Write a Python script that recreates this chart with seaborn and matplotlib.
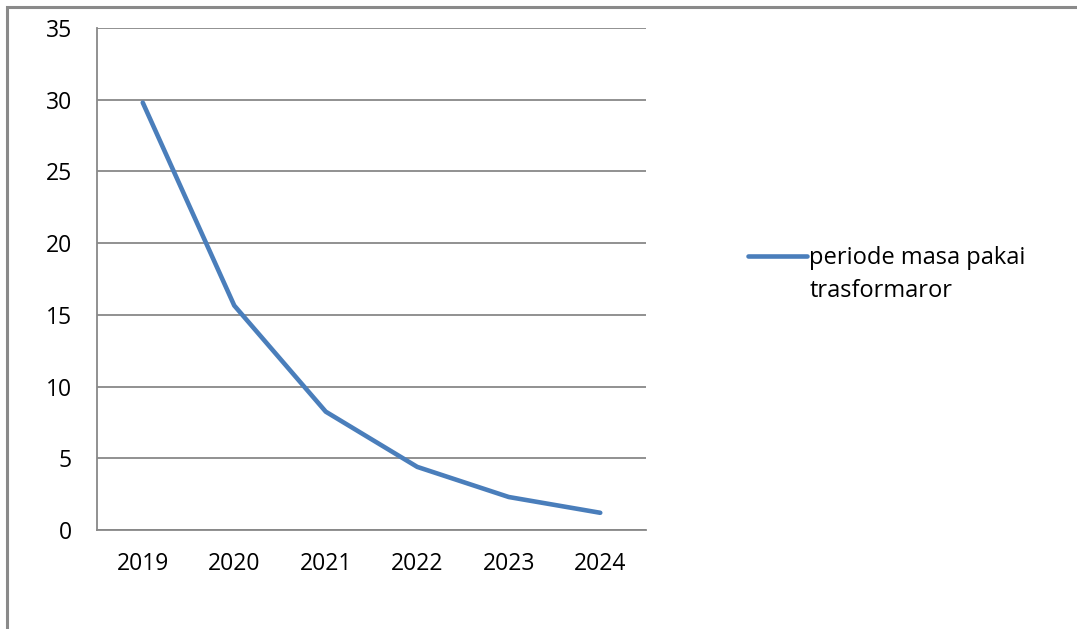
import matplotlib
matplotlib.use("Agg")
import matplotlib.pyplot as plt
import seaborn as sns
import pandas as pd
from matplotlib.patches import Rectangle

years = ["2019", "2020", "2021", "2022", "2023", "2024"]
values = [29.8, 15.65, 8.25, 4.4, 2.3, 1.2]
series_label_lines = ["periode masa pakai", "trasformaror"]
y_ticks = [0, 5, 10, 15, 20, 25, 30, 35]

sns.set_style("white")
plt.rcParams['font.family'] = ['Open Sans', 'DejaVu Sans']
plt.rcParams['text.color'] = 'black'
plt.rcParams['xtick.color'] = 'black'
plt.rcParams['ytick.color'] = 'black'

df = pd.DataFrame({"year": years, "value": values})

fig = plt.figure(figsize=(10.77, 6.29), dpi=100)
ax = fig.add_axes([97/1077, 99/629, (646-97)/1077, (530-28)/629])

sns.lineplot(data=df, x="year", y="value", ax=ax, color="#4A7EBB",
             linewidth=3.3, label=series_label_lines[0], solid_capstyle="round")

grid_c = "#888888"
fs = 16.5
ax.set_ylim(0, 35)
ax.set_xlim(-0.5, len(years) - 0.5)
ax.set_yticks(y_ticks)
ax.set_yticklabels([str(t) for t in y_ticks], fontsize=fs)
ax.set_xticks(range(len(years)))
ax.set_xticklabels(years, fontsize=fs)
ax.set_xticks([i - 0.5 for i in range(len(years) + 1)], minor=True)
ax.tick_params(axis="x", which="major", length=0, pad=16, labelcolor="black")
ax.tick_params(axis="x", which="minor", length=5, width=1.3, color=grid_c, direction="out")
ax.tick_params(axis="y", length=5, width=1.3, color=grid_c, direction="out", pad=13,
               labelcolor="black")
ax.set_xlabel("")
ax.set_ylabel("")
ax.yaxis.grid(True, color=grid_c, linewidth=1.3)
ax.set_axisbelow(True)
for s in ["top", "right"]:
    ax.spines[s].set_visible(False)
for s in ["left", "bottom"]:
    ax.spines[s].set_color(grid_c)
    ax.spines[s].set_linewidth(1.3)

leg = ax.legend(loc="center left", bbox_to_anchor=(748/1077, 1 - 258/629),
                bbox_transform=fig.transFigure, frameon=False, fontsize=17,
                handlelength=2.5, handletextpad=0.1, borderpad=0, borderaxespad=0)
fig.text(810/1077, 1 - 291/629, series_label_lines[1], fontsize=17,
         va="center", ha="left", color="black")

fig.patches.append(Rectangle((7/1077, -0.1), 1.2, 1.1 - 7/629, transform=fig.transFigure,
                             fill=False, edgecolor="#8a8a8a", linewidth=2.2, zorder=0))

fig.savefig("out.png", dpi=100)
